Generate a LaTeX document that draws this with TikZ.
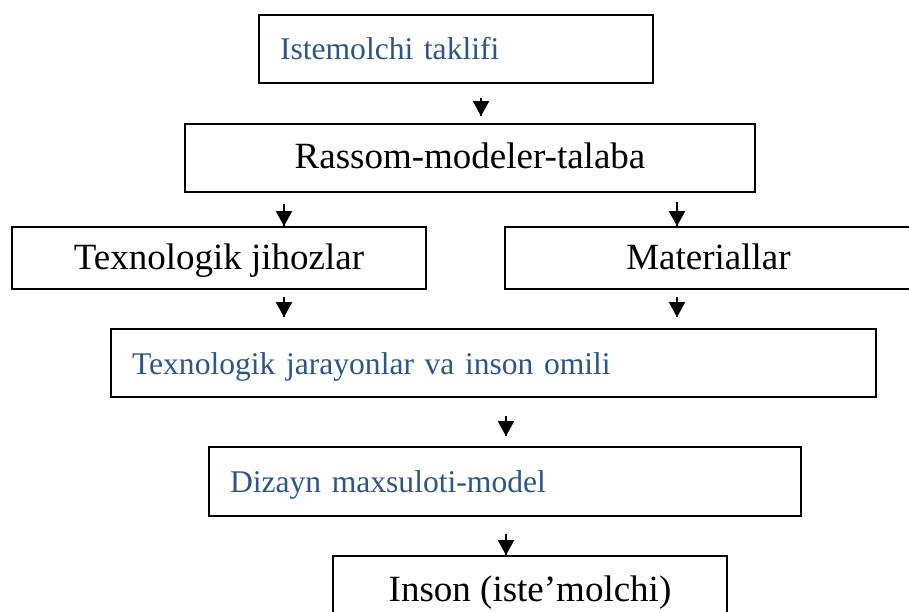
\documentclass[tikz,border=0pt]{standalone}
\usepackage{fontspec}
\setmainfont{Liberation Serif}
\usetikzlibrary{arrows.meta}
\usetikzlibrary{decorations.markings}
\usetikzlibrary{calc}
\definecolor{headblue}{RGB}{44,86,134}
\tikzset{arr/.style = {line width=1.5pt,
                       decoration={markings,
                                   mark=at position 1 with {\arrow{Triangle[width=16pt,length=15pt]}}},
                       postaction={decorate}}}
\tikzset{box/.style = {draw, rectangle, line width=1.6pt, inner sep=0,
                       text height=24pt, text depth=2pt}}
\tikzset{bigbox/.style = {box, font=\fontsize{37}{40}\selectfont}}
\tikzset{bluebox/.style = {box, font=\fontsize{31.6}{36}\selectfont, text=headblue,
                           align=left, inner xsep=21pt}}

\begin{document}
\begin{tikzpicture}[x=1pt, y=-1pt]
      \useasboundingbox (0,0) rectangle (909,612);
      \clip (0,0) rectangle (909,612);
      \node [bluebox, text width=352, minimum height=68] (taklif) at (456,49) {Istemolchi taklifi};
      \node [bigbox, minimum width=570, minimum height=68] (rassom) at (470,158) {Rassom-modeler-talaba};
      \node [bigbox, minimum width=414, minimum height=62] (jihoz) at (219,258) {Texnologik jihozlar};
      \node [bigbox, minimum width=407, minimum height=62] (material) at (708.5,258) {Materiallar};
      \node [bluebox, text width=723, minimum height=68] (jarayon) at (493.5,363) {Texnologik jarayonlar va inson omili};
      \node [bluebox, text width=550, minimum height=69] (dizayn) at (505,481.5) {Dizayn maxsuloti-model};
      \node [bigbox, minimum width=394, minimum height=68] (inson) at (530,590) {Inson (iste’molchi)};
      \coordinate (top) at (481,0);
      \coordinate (left) at (284,0);
      \coordinate (right) at (677,0);
      \coordinate (mid) at (506,0);
      \draw [arr] ($(taklif.south -| top)+(0,14)$) -- ($(rassom.north -| top)+(0,-7)$);
      \draw [arr] ($(rassom.south -| left)+(0,11)$) -- (jihoz.north -| left);
      \draw [arr] ($(rassom.south -| right)+(0,9)$) -- (material.north -| right);
      \draw [arr] ($(jihoz.south -| left)+(0,7)$) -- ($(jarayon.north -| left)+(0,-11)$);
      \draw [arr] ($(material.south -| right)+(0,7)$) -- ($(jarayon.north -| right)+(0,-11)$);
      \draw [arr] ($(jarayon.south -| mid)+(0,18)$) -- ($(dizayn.north -| mid)+(0,-10)$);
      \draw [arr] ($(dizayn.south -| mid)+(0,17)$) -- (inson.north -| mid);
    \end{tikzpicture}
\end{document}
